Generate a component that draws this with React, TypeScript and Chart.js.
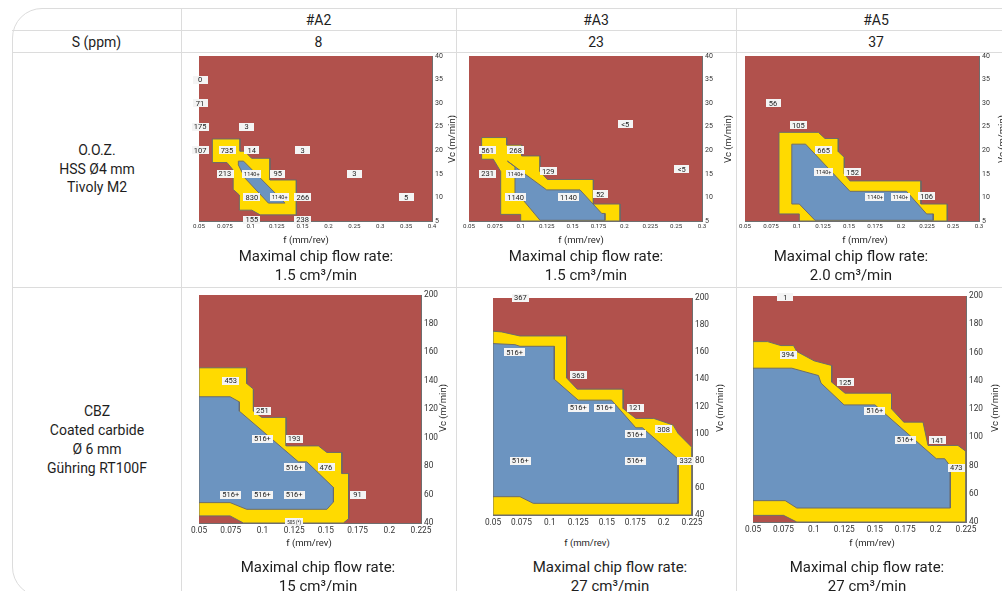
import React, { useEffect, useRef } from "react";
import { Chart, registerables } from "chart.js";

Chart.register(...registerables);

const FONT = "Roboto, 'Noto Sans', 'DejaVu Sans', sans-serif";
const RED = "#b1514c";
const YELLOW = "#ffda00";
const BLUE = "#6c94c0";
const OUTLINE = "rgba(105,105,105,0.95)";
const GRID = "rgba(95,95,95,0.7)";
const LINE = "#dcdcdc";
const TEXT = "#1e1e1e";

type Pt = [number, number];
type Lbl = [string, number, number, number?];

// ---------- table text ----------
const materials = ["#A2", "#A3", "#A5"];
const sulfurPpm = ["8", "23", "37"];
const toolHss = ["O.O.Z.", "HSS Ø4 mm", "Tivoly M2"];
const toolCbz = ["CBZ", "Coated carbide", "Ø 6 mm", "Gühring RT100F"];
const flowHss = ["1.5", "1.5", "2.0"];
const flowCbz = ["15", "27", "27"];
const flowTitle = "Maximal chip flow rate:";
const xTitle = "f (mm/rev)";
const yTitle = "Vc (m/min)";

// ---------- axes (tick positions are equally spaced) ----------
const fTicksHssA2 = [0.05, 0.075, 0.1, 0.125, 0.15, 0.2, 0.25, 0.3, 0.35, 0.4];
const fTicksHss = [0.05, 0.075, 0.1, 0.125, 0.15, 0.175, 0.2, 0.225, 0.25, 0.3];
const fTicksCbz = [0.05, 0.075, 0.1, 0.125, 0.15, 0.175, 0.2, 0.225];
const vcTicksHss = [5, 10, 15, 20, 25, 30, 35, 40];
const vcTicksCbz = [40, 60, 80, 100, 120, 140, 160, 180, 200];

// ---------- HSS, #A2 ----------
const yellowHssA2: Pt[] = [[0.0629, 22.4], [0.0896, 22.4], [0.0896, 19.8], [0.094, 19.8], [0.1008, 18.3], [0.1185, 18.3], [0.1185, 13.7], [0.144, 13.7], [0.144, 6.3], [0.109, 6.3], [0.101, 7.3], [0.089, 7.3], [0.089, 10.5], [0.083, 11.7], [0.083, 15.8], [0.077, 17.4], [0.0629, 17.4]];
const blueHssA2: Pt[] = [[0.088, 17.7], [0.093, 17.7], [0.125, 10.6], [0.133, 8.8], [0.117, 8.8], [0.0944, 14.1], [0.088, 16.9]];
const labelsHssA2: Lbl[] = [["0", 0.051, 35], ["71", 0.051, 30], ["175", 0.051, 25], ["107", 0.051, 20], ["3", 0.096, 25], ["735", 0.077, 20], ["14", 0.101, 20], ["3", 0.15, 20], ["213", 0.075, 15], ["1140+", 0.101, 15, 5.5], ["95", 0.126, 15], ["3", 0.25, 15], ["830", 0.101, 10], ["1140+", 0.128, 10, 5.5], ["266", 0.1505, 10], ["5", 0.35, 10], ["155", 0.101, 5.3], ["238", 0.15, 5.3]];

// ---------- HSS, #A3 ----------
const yellowHssA3: Pt[] = [[0.0622, 22.7], [0.0864, 22.7], [0.0864, 21.1], [0.1009, 21.1], [0.1009, 18.8], [0.1186, 18.8], [0.1186, 15.5], [0.1257, 13.8], [0.1701, 13.8], [0.1701, 8.6], [0.1959, 8.6], [0.1959, 5], [0.0999, 5], [0.0999, 6.4], [0.0806, 6.4], [0.0806, 15.5], [0.0735, 18.1], [0.0622, 18.1]];
const blueHssA3: Pt[] = [[0.0871, 17.7], [0.125, 11.6], [0.1572, 11.6], [0.1782, 6.6], [0.1813, 6.6], [0.1813, 5.15], [0.1186, 5.15], [0.1009, 9.8], [0.0944, 9.8], [0.0944, 16.5]];
const labelsHssA3: Lbl[] = [["561", 0.068, 20], ["268", 0.095, 20], ["231", 0.068, 15], ["1140+", 0.095, 15, 5.5], ["129", 0.1265, 15.5], ["1140", 0.095, 10], ["1140", 0.146, 10], ["52", 0.1766, 10.7], ["<5", 0.2008, 25.5], ["<5", 0.261, 16]];

// ---------- HSS, #A5 ----------
const yellowHssA5: Pt[] = [[0.0827, 23.8], [0.1205, 23.8], [0.1269, 22.5], [0.1397, 22.5], [0.1397, 19.7], [0.1455, 18.5], [0.1455, 15], [0.1509, 13.5], [0.2192, 13.5], [0.2192, 8.6], [0.2445, 8.6], [0.2445, 5], [0.1022, 5], [0.1022, 6.5], [0.0827, 6.5]];
const blueHssA5: Pt[] = [[0.095, 21.3], [0.1083, 21.3], [0.1509, 11.3], [0.2053, 11.3], [0.2246, 6.5], [0.231, 6.5], [0.231, 5.15], [0.1173, 5.15], [0.1022, 8.6], [0.095, 8.6]];
const labelsHssA5: Lbl[] = [["56", 0.077, 30], ["105", 0.1013, 25.3], ["665", 0.1256, 20], ["1140+", 0.1256, 15.3, 5.5], ["152", 0.1535, 15.3], ["1140+", 0.1751, 10, 5.5], ["1140+", 0.1994, 10, 5.5], ["106", 0.2246, 10.2]];

// ---------- CBZ, #A2 ----------
const yellowCbzA2: Pt[] = [[0.05, 148.9], [0.0876, 148.9], [0.0876, 137.9], [0.0929, 134], [0.0929, 118.5], [0.0995, 114.1], [0.1187, 114.1], [0.1187, 94.1], [0.1442, 94.1], [0.1508, 89.5], [0.1626, 89.5], [0.1626, 74.7], [0.1679, 74.7], [0.1679, 43], [0.1638, 40], [0.085, 40], [0.0745, 45], [0.05, 45]];
const blueCbzA2: Pt[] = [[0.05, 128.6], [0.0745, 128.6], [0.0818, 125], [0.0818, 118.5], [0.1284, 82.9], [0.135, 82.9], [0.156, 64.9], [0.156, 54.8], [0.1508, 49.6], [0.0876, 49.6], [0.0745, 54.3], [0.05, 54.3]];
const labelsCbzA2: Lbl[] = [["453", 0.075, 140], ["251", 0.1, 118.7], ["516+", 0.1, 99], ["193", 0.125, 99], ["516+", 0.125, 79], ["476", 0.15, 79], ["516+", 0.075, 60], ["516+", 0.1, 60], ["516+", 0.125, 60], ["91", 0.175, 60], ["505 (*)", 0.125, 40.5, 4.5]];

// ---------- CBZ, #A3 ----------
const yellowCbzA3: Pt[] = [[0.05, 175.5], [0.0576, 175], [0.0737, 172], [0.1147, 172], [0.1147, 141.1], [0.1241, 132.8], [0.1645, 132.8], [0.1645, 118.5], [0.1756, 111.2], [0.1914, 111.2], [0.2084, 106.3], [0.2128, 100.1], [0.225, 89.8], [0.225, 40], [0.05, 40]];
const blueCbzA3: Pt[] = [[0.05, 166.4], [0.0693, 165.6], [0.0737, 164.4], [0.1039, 164.4], [0.1039, 140.1], [0.1249, 124.7], [0.1542, 124.7], [0.1756, 104.3], [0.1814, 104.3], [0.2128, 81.2], [0.2128, 48.6], [0.0854, 48.6], [0.0737, 53.5], [0.05, 53.5]];
const labelsCbzA3: Lbl[] = [["367", 0.074, 200], ["516+", 0.069, 160], ["363", 0.125, 143], ["516+", 0.125, 119], ["516+", 0.148, 119], ["121", 0.175, 119], ["308", 0.2, 103.3], ["516+", 0.175, 99.4], ["516+", 0.074, 79.8], ["516+", 0.175, 79.8], ["332", 0.2195, 79.8]];

// ---------- CBZ, #A5 ----------
const yellowCbzA5: Pt[] = [[0.05, 167.7], [0.062, 167.7], [0.0729, 164.9], [0.0833, 164.9], [0.086, 160.7], [0.1002, 154.1], [0.1147, 150.8], [0.1147, 139], [0.1256, 131.2], [0.1638, 131.2], [0.1638, 120.1], [0.1739, 110.7], [0.1897, 110.7], [0.1938, 94.2], [0.2184, 94.2], [0.225, 90], [0.225, 40], [0.086, 40], [0.0751, 44.7], [0.05, 44.7]];
const blueCbzA5: Pt[] = [[0.05, 148.9], [0.0819, 148.9], [0.1038, 143.7], [0.1059, 138.3], [0.1248, 122.9], [0.1502, 122.9], [0.2006, 84.8], [0.2075, 84.8], [0.2121, 79.4], [0.2121, 49.9], [0.086, 49.9], [0.0765, 55.1], [0.05, 55.1]];
const labelsCbzA5: Lbl[] = [["1", 0.0765, 199], ["394", 0.0787, 158.3], ["125", 0.1256, 139], ["516+", 0.15, 118.7], ["516+", 0.175, 98.2], ["141", 0.2015, 97.7], ["473", 0.217, 78.2]];

interface Box { l: number; t: number; r: number; b: number }
interface ChipProps {
  box: Box;
  xTicks: number[];
  yTicks: number[];
  yellow: Pt[];
  blue: Pt[];
  labels: Lbl[];
  xFont: number;
  yFont: number;
  lblFont: number;
  minBox: number;
  xPad: number;
}

const PAD_L = 26, PAD_T = 8, AXIS_W = 26, AXIS_H = 16;

function ChipChart(p: ChipProps) {
  const ref = useRef<HTMLCanvasElement>(null);
  const w = p.box.r - p.box.l + PAD_L + AXIS_W;
  const h = p.box.b - p.box.t + PAD_T + AXIS_H;
  useEffect(() => {
    const xt = p.xTicks;
    const pos = (f: number) => {
      for (let i = 0; i < xt.length - 1; i++) {
        if (f <= xt[i + 1] || i === xt.length - 2) return i + (f - xt[i]) / (xt[i + 1] - xt[i]);
      }
      return 0;
    };
    const pts = (poly: Pt[]) => [...poly, poly[0]].map(([f, v]) => ({ x: pos(f), y: v }));
    const ds = (poly: Pt[], color: string, order: number) => ({
      data: pts(poly),
      backgroundColor: color,
      borderColor: OUTLINE,
      borderWidth: 1,
      fill: "shape",
      pointRadius: 0,
      pointHitRadius: 0,
      tension: 0,
      order,
    });
    const bg = {
      id: "bg",
      beforeDatasetsDraw(chart: any) {
        const { ctx, chartArea: a } = chart;
        ctx.save();
        ctx.fillStyle = RED;
        ctx.fillRect(a.left, a.top, a.right - a.left, a.bottom - a.top);
        ctx.restore();
      },
    };
    const lbl = {
      id: "lbl",
      afterDraw(chart: any) {
        const { ctx } = chart;
        const sx = chart.scales.x, sy = chart.scales.y;
        ctx.save();
        for (const [text, f, v, fs] of p.labels) {
          const size = fs ?? p.lblFont;
          ctx.font = `${size}px ${FONT}`;
          const x = sx.getPixelForValue(pos(f));
          const y = sy.getPixelForValue(v);
          const tw = ctx.measureText(text).width;
          const bw = Math.max(p.minBox, tw + 4);
          const bh = 8;
          ctx.fillStyle = "#f4f4f4";
          ctx.fillRect(Math.round(x - bw / 2), Math.round(y - bh / 2), Math.round(bw), bh);
          ctx.fillStyle = "#222";
          ctx.textAlign = "center";
          ctx.textBaseline = "middle";
          ctx.fillText(text, x, y + 0.5);
        }
        ctx.restore();
      },
    };
    const chart = new Chart(ref.current as HTMLCanvasElement, {
      type: "line",
      data: { datasets: [ds(p.blue, BLUE, 1), ds(p.yellow, YELLOW, 2)] as any },
      options: {
        animation: false,
        responsive: false,
        maintainAspectRatio: false,
        events: [],
        layout: { padding: { left: PAD_L, top: PAD_T, right: 0, bottom: 0 } },
        plugins: { legend: { display: false }, tooltip: { enabled: false } },
        scales: {
          x: {
            type: "linear",
            min: 0,
            max: xt.length - 1,
            z: 1,
            afterFit: (s: any) => { s.height = AXIS_H; },
            afterBuildTicks: (s: any) => { s.ticks = xt.map((_, i) => ({ value: i })); },
            ticks: {
              autoSkip: false,
              maxRotation: 0,
              padding: p.xPad,
              color: "#333",
              font: { family: FONT, size: p.xFont },
              callback: (v: any) => String(xt[Math.round(Number(v))]),
            },
            grid: { color: GRID, drawTicks: false, lineWidth: 1 },
            border: { color: GRID },
          },
          y: {
            type: "linear",
            position: "right",
            min: p.yTicks[0],
            max: p.yTicks[p.yTicks.length - 1],
            z: 1,
            afterFit: (s: any) => { s.width = AXIS_W; },
            afterBuildTicks: (s: any) => { s.ticks = p.yTicks.map((v) => ({ value: v })); },
            ticks: {
              padding: 3,
              color: "#333",
              font: { family: FONT, size: p.yFont },
            },
            grid: { color: GRID, drawTicks: false, lineWidth: 1 },
            border: { color: GRID },
          },
        },
      } as any,
      plugins: [bg, lbl],
    });
    return () => chart.destroy();
  }, []);
  return (
    <canvas
      ref={ref}
      width={w}
      height={h}
      style={{ position: "absolute", left: p.box.l - PAD_L, top: p.box.t - PAD_T, width: w, height: h }}
    />
  );
}

function T(props: { x: number; y: number; size: number; rot?: boolean; children: React.ReactNode }) {
  return (
    <div
      style={{
        position: "absolute",
        left: props.x,
        top: props.y,
        transform: `translate(-50%, -50%)${props.rot ? " rotate(-90deg)" : ""}`,
        whiteSpace: "nowrap",
        fontSize: props.size,
        lineHeight: 1,
        color: TEXT,
      }}
    >
      {props.children}
    </div>
  );
}

const colCenters = [318.5, 596, 876];
const hssBoxes: Box[] = [
  { l: 199, t: 56, r: 432, b: 221 },
  { l: 469, t: 56, r: 702, b: 221 },
  { l: 745, t: 56, r: 979, b: 221 },
];
const cbzBoxes: Box[] = [
  { l: 199, t: 295, r: 421, b: 523 },
  { l: 493, t: 298, r: 692, b: 515 },
  { l: 753, t: 296, r: 966, b: 522 },
];

export default function App() {
  const hss = [
    { yellow: yellowHssA2, blue: blueHssA2, labels: labelsHssA2, xTicks: fTicksHssA2 },
    { yellow: yellowHssA3, blue: blueHssA3, labels: labelsHssA3, xTicks: fTicksHss },
    { yellow: yellowHssA5, blue: blueHssA5, labels: labelsHssA5, xTicks: fTicksHss },
  ];
  const cbz = [
    { yellow: yellowCbzA2, blue: blueCbzA2, labels: labelsCbzA2 },
    { yellow: yellowCbzA3, blue: blueCbzA3, labels: labelsCbzA3 },
    { yellow: yellowCbzA5, blue: blueCbzA5, labels: labelsCbzA5 },
  ];
  const hssXTitle = [306, 581, 865];
  const cbzXTitle = [309, 587, 872];
  const hssYTitle = [452, 728, 1002];
  const cbzYTitle = [443, 720, 995];
  const hssFlowX = [316, 586, 851];
  const cbzFlowX = [318, 610, 867];
  return (
    <div
      style={{
        position: "fixed",
        left: 0,
        top: 0,
        width: 1002,
        height: 591,
        overflow: "hidden",
        background: "#fff",
        fontFamily: FONT,
        color: TEXT,
      }}
    >
      <div
        style={{
          position: "absolute",
          left: 12,
          top: 8,
          width: 1004,
          height: 589,
          border: `1px solid ${LINE}`,
          borderRadius: "30px 0 0 30px",
          boxSizing: "border-box",
        }}
      />
      {[30, 52, 287].map((y) => (
        <div key={"h" + y} style={{ position: "absolute", left: 12, top: y, width: 1004, height: 1, background: LINE }} />
      ))}
      {[181, 456, 736].map((x) => (
        <div key={"v" + x} style={{ position: "absolute", left: x, top: 8, width: 1, height: 589, background: LINE }} />
      ))}

      {materials.map((m, i) => (
        <T key={"m" + i} x={colCenters[i]} y={19.5} size={14}>{m}</T>
      ))}
      <T x={96.5} y={41.5} size={14}>S (ppm)</T>
      {sulfurPpm.map((s, i) => (
        <T key={"s" + i} x={colCenters[i]} y={41.5} size={14}>{s}</T>
      ))}
      {toolHss.map((t, i) => (
        <T key={"th" + i} x={97} y={150 + i * 18.5} size={14}>{t}</T>
      ))}
      {toolCbz.map((t, i) => (
        <T key={"tc" + i} x={97} y={410.5 + i * 19.2} size={14}>{t}</T>
      ))}

      {hss.map((c, i) => (
        <ChipChart
          key={"hc" + i}
          box={hssBoxes[i]}
          xTicks={c.xTicks}
          yTicks={vcTicksHss}
          yellow={c.yellow}
          blue={c.blue}
          labels={c.labels}
          xFont={6.2}
          yFont={7}
          lblFont={7.5}
          minBox={15}
          xPad={2}
        />
      ))}
      {cbz.map((c, i) => (
        <ChipChart
          key={"cc" + i}
          box={cbzBoxes[i]}
          xTicks={fTicksCbz}
          yTicks={vcTicksCbz}
          yellow={c.yellow}
          blue={c.blue}
          labels={c.labels}
          xFont={8.3}
          yFont={8.3}
          lblFont={7.5}
          minBox={16}
          xPad={3}
        />
      ))}

      {hss.map((_, i) => (
        <React.Fragment key={"ht" + i}>
          <T x={hssXTitle[i]} y={240} size={9.5}>{xTitle}</T>
          <T x={hssYTitle[i]} y={139} size={9.5} rot>{yTitle}</T>
          <T x={hssFlowX[i]} y={256} size={15}>{flowTitle}</T>
          <T x={hssFlowX[i]} y={275} size={15}>{flowHss[i]} cm³/min</T>
        </React.Fragment>
      ))}
      {cbz.map((_, i) => (
        <React.Fragment key={"ct" + i}>
          <T x={cbzXTitle[i]} y={543} size={9.5}>{xTitle}</T>
          <T x={cbzYTitle[i]} y={408} size={9.5} rot>{yTitle}</T>
          <T x={cbzFlowX[i]} y={567} size={15}>{flowTitle}</T>
          <T x={cbzFlowX[i]} y={586} size={15}>{flowCbz[i]} cm³/min</T>
        </React.Fragment>
      ))}
    </div>
  );
}
